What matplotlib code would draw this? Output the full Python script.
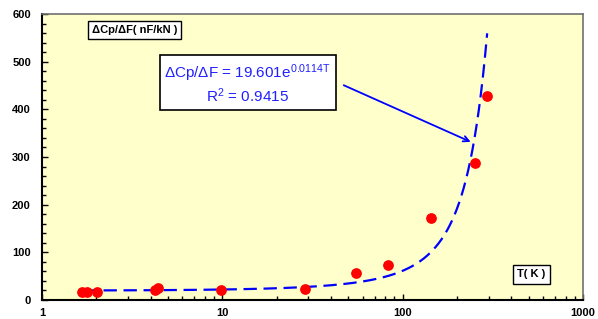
import numpy as np
import matplotlib.pyplot as plt
from matplotlib.ticker import MultipleLocator, FixedLocator, NullFormatter

plt.rcParams['font.family'] = ['Liberation Sans', 'DejaVu Sans']
plt.rcParams['mathtext.default'] = 'regular'

# measured points
T = [1.67, 1.78, 2.02, 4.24, 4.4, 9.8, 28.8, 55.2, 83, 144, 251, 294]
dCp = [17, 17, 16, 21, 25, 21, 23, 57, 73, 172, 287, 428]

# exponential fit shown on the chart
a, b = 19.601, 0.0114
t_fit = np.linspace(1.7, 294, 600)
y_fit = a * np.exp(b * t_fit)

fig = plt.figure(figsize=(5.98, 3.19), dpi=100)
ax = fig.add_axes([0.0702, 0.0596, 0.9048, 0.8964])
ax.set_facecolor('#FFFFCC')

ax.plot(t_fit, y_fit, color='#0000FF', ls=(0, (6, 3)), lw=1.6, zorder=2)
ax.scatter(T, dCp, s=45, color='#FF0000', zorder=3)

ax.set_xscale('log')
ax.set_xlim(1, 1000)
ax.set_ylim(0, 600)
ax.yaxis.set_major_locator(MultipleLocator(100))
ax.yaxis.set_minor_locator(MultipleLocator(20))
ax.xaxis.set_major_locator(FixedLocator([1, 10, 100, 1000]))
ax.set_xticklabels(['1', '10', '100', '1000'])
ax.xaxis.set_minor_formatter(NullFormatter())

ax.tick_params(which='both', direction='in', labelsize=8, width=1)
ax.tick_params(which='major', length=4)
ax.tick_params(which='minor', length=3)
ax.tick_params(axis='x', pad=5.5)
ax.tick_params(axis='y', pad=8)
for lab in ax.get_xticklabels() + ax.get_yticklabels():
    lab.set_fontweight('bold')

for s in ['top', 'right']:
    ax.spines[s].set_color('#707070')
    ax.spines[s].set_linewidth(1.2)
for s in ['left', 'bottom']:
    ax.spines[s].set_linewidth(1.5)

ax.text(0.092, 0.945, '\u0394Cp/\u0394F( nF/kN )', transform=ax.transAxes,
        fontsize=8, fontweight='bold', va='center', ha='left',
        bbox=dict(boxstyle='square,pad=0.35', fc='white', ec='black', lw=1))
ax.text(0.878, 0.09, 'T( K )', transform=ax.transAxes,
        fontsize=8, fontweight='bold', va='center', ha='left',
        bbox=dict(boxstyle='square,pad=0.4', fc='white', ec='black', lw=1))

ax.text(0.38, 0.755,
        '\u0394Cp/\u0394F = 19.601e$^{0.0114T}$\nR$^2$ = 0.9415',
        transform=ax.transAxes, fontsize=11, color='#2020FF',
        va='center', ha='center', multialignment='center', linespacing=1.15,
        bbox=dict(boxstyle='square,pad=0.3', fc='white', ec='black', lw=1.2))

ax.annotate('', xy=(0.797, 0.549), xytext=(0.553, 0.755), xycoords='axes fraction',
            arrowprops=dict(arrowstyle='->', color='#0000FF', lw=1.3))

fig.savefig('out.png', dpi=100)
